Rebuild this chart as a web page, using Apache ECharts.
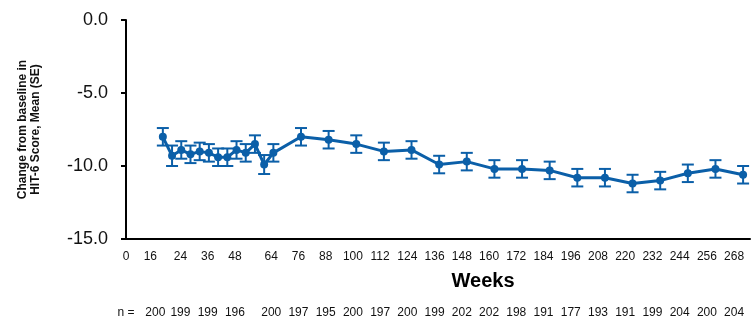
<!DOCTYPE html>
<html>
<head>
<meta charset="utf-8">
<script src="https://cdn.jsdelivr.net/npm/echarts@6/dist/echarts.min.js"></script>
<style>
html,body{margin:0;padding:0;background:#fff;}
#chart{width:753px;height:320px;}
</style>
</head>
<body>
<div id="chart"></div>
<script>
const weeks = [16,20,24,28,32,36,40,44,48,52,56,60,64,76,88,100,112,124,136,148,160,172,184,196,208,220,232,244,256,268];
const meanChange = [-8.0,-9.3,-8.9,-9.2,-9.0,-9.1,-9.4,-9.4,-8.9,-9.1,-8.5,-9.9,-9.1,-8.0,-8.2,-8.5,-9.0,-8.9,-9.9,-9.7,-10.2,-10.2,-10.3,-10.8,-10.8,-11.2,-11.0,-10.5,-10.2,-10.6];
const seValues = [0.6,0.7,0.6,0.6,0.6,0.6,0.6,0.6,0.6,0.6,0.6,0.65,0.6,0.6,0.6,0.6,0.6,0.6,0.6,0.6,0.6,0.6,0.6,0.6,0.6,0.6,0.6,0.6,0.6,0.6];
const tickWeeks = [0,16,24,36,48,64,76,88,100,112,124,136,148,160,172,184,196,208,220,232,244,256,268];
const nWeeks = [16,24,36,48,64,76,88,100,112,124,136,148,160,172,184,196,208,220,232,244,256,268];
const nValues = [200,199,199,196,200,197,195,200,197,200,199,202,202,198,191,177,193,191,199,204,200,204];

const BLUE = '#0B5FA8';
const FONT = 'Liberation Sans, Arial, sans-serif';

const chart = echarts.init(document.getElementById('chart'), null, {renderer:'canvas'});
const lineData = weeks.map((w,i)=>[w, meanChange[i]]);
const errData = weeks.map((w,i)=>[w, meanChange[i], seValues[i]]);

const labelRich = {
  sh:{padding:[0,24,0,0], color:'#111', fontFamily:FONT, fontSize:12},
  sn:{padding:[0,14,0,0], color:'#111', fontFamily:FONT, fontSize:12}
};

chart.setOption({
  animation:false,
  grid:{left:126, right:0, top:20, bottom:81, containLabel:false},
  xAxis:[
    {type:'value', min:0, max:271, position:'bottom',
     axisLine:{show:true, onZero:false, lineStyle:{color:'#000', width:2}},
     axisTick:{show:false}, axisLabel:{show:false}, splitLine:{show:false}},
    {type:'value', min:0, max:275, interval:4, position:'bottom',
     axisLine:{show:false}, axisTick:{show:false}, splitLine:{show:false},
     axisLabel:{show:true, margin:12, color:'#111', fontFamily:FONT, fontSize:12, rich:labelRich,
       formatter:v=> { if(!tickWeeks.includes(v)) return ''; return v===16 ? '{sh|16}' : String(v); }}},
    {type:'value', min:0, max:275, interval:4, position:'bottom', offset:57,
     axisLine:{show:false}, axisTick:{show:false}, splitLine:{show:false},
     axisLabel:{show:true, margin:11, color:'#111', fontFamily:FONT, fontSize:12, rich:labelRich,
       formatter:v=>{ if(v===0) return 'n ='; const k=nWeeks.indexOf(v); if(k<0) return ''; return k===0 ? '{sn|'+nValues[k]+'}' : String(nValues[k]); }}}
  ],
  yAxis:{type:'value', min:-15, max:0, interval:5,
    axisLine:{show:true, onZero:false, lineStyle:{color:'#000', width:2}},
    axisTick:{show:true, inside:false, length:5, lineStyle:{color:'#000', width:2}},
    splitLine:{show:false},
    axisLabel:{margin:18, color:'#111', fontFamily:FONT, fontSize:18, formatter:v=>v.toFixed(1)},
    name:'Change from baseline in\nHIT-6 Score, Mean (SE)', nameLocation:'middle', nameRotate:90, nameGap:84,
    nameTextStyle:{fontFamily:FONT, fontSize:12, fontWeight:'bold', color:'#111', lineHeight:13, align:'center'}
  },
  graphic:[{type:'text', x:483, y:281, style:{text:'Weeks', font:'bold 20px '+FONT, fill:'#000', textAlign:'center', textVerticalAlign:'middle', align:'center', verticalAlign:'middle'}}],
  series:[
    {type:'custom', xAxisIndex:0, data:errData, encode:{x:0,y:1}, z:1,
     renderItem:(params, api)=>{
       const x=api.value(0), m=api.value(1), s=api.value(2);
       const t=api.coord([x,m+s]), b=api.coord([x,m-s]);
       const w=6;
       const st={stroke:BLUE, lineWidth:2};
       return {type:'group', children:[
         {type:'line', shape:{x1:t[0],y1:t[1],x2:b[0],y2:b[1]}, style:st},
         {type:'line', shape:{x1:t[0]-w,y1:t[1],x2:t[0]+w,y2:t[1]}, style:st},
         {type:'line', shape:{x1:b[0]-w,y1:b[1],x2:b[0]+w,y2:b[1]}, style:st}
       ]};
     }},
    {type:'line', xAxisIndex:0, data:lineData, z:2, symbol:'circle', symbolSize:8,
     lineStyle:{color:BLUE, width:3}, itemStyle:{color:BLUE}}
  ]
});
</script>
</body>
</html>
